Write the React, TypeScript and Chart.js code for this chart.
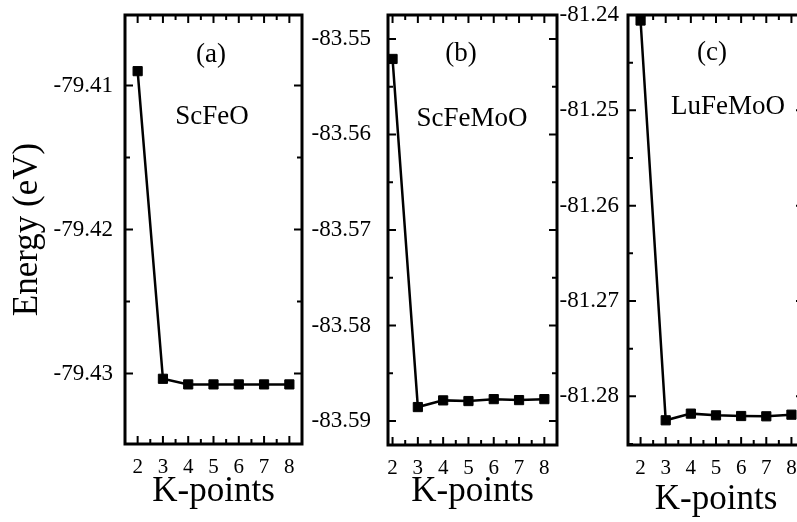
import React, { useEffect, useRef } from "react";
import { Chart, registerables } from "chart.js";

Chart.register(...registerables);

// ---- data ----
const kPoints = [2, 3, 4, 5, 6, 7, 8];
const energyScFeO = [-79.4090, -79.43037, -79.43076, -79.43076, -79.43076, -79.43076, -79.43076];
const energyScFeMoO = [-83.5521, -83.58853, -83.58783, -83.5879, -83.5877, -83.5878, -83.5877];
const energyLuFeMoO = [-81.24058, -81.28251, -81.28181, -81.28199, -81.28206, -81.28209, -81.28192];

const xTickValues = [2, 3, 4, 5, 6, 7, 8];
const yTicksScFeO = [-79.41, -79.42, -79.43];
const yTicksScFeMoO = [-83.55, -83.56, -83.57, -83.58, -83.59];
const yTicksLuFeMoO = [-81.24, -81.25, -81.26, -81.27, -81.28];

const panelTags = ["(a)", "(b)", "(c)"];
const compoundNames = ["ScFeO", "ScFeMoO", "LuFeMoO"];
const xAxisTitle = "K-points";
const yAxisTitle = "Energy (eV)";

const FONT = '"Liberation Serif", "Times New Roman", serif';

type Panel = {
  values: number[];
  yTicks: number[];
  xMin: number;
  xMax: number;
  yMin: number;
  yMax: number;
  left: number;
  right: number;
  top: number;
  bottom: number;
  canvasW: number;
  yLabelPad: number;
  xTitlePadBottom: number;
  showYTitle: boolean;
  tag: string;
  name: string;
  tagPos: [number, number];
  namePos: [number, number];
};

const panels: Panel[] = [
  {
    values: energyScFeO, yTicks: yTicksScFeO,
    xMin: 1.5, xMax: 8.5, yMin: -79.4349, yMax: -79.4051,
    left: 125, right: 302, top: 15, bottom: 444, canvasW: 797,
    yLabelPad: 12, xTitlePadBottom: 9, showYTitle: true,
    tag: panelTags[0], name: compoundNames[0], tagPos: [211, 55], namePos: [212, 117],
  },
  {
    values: energyScFeMoO, yTicks: yTicksScFeMoO,
    xMin: 1.82, xMax: 8.5, yMin: -83.5925, yMax: -83.5475,
    left: 388, right: 557, top: 15, bottom: 445, canvasW: 797,
    yLabelPad: 17, xTitlePadBottom: 9, showYTitle: false,
    tag: panelTags[1], name: compoundNames[1], tagPos: [461, 54], namePos: [472, 119],
  },
  {
    values: energyLuFeMoO, yTicks: yTicksLuFeMoO,
    xMin: 1.5, xMax: 8.5, yMin: -81.2851, yMax: -81.24,
    left: 628, right: 804, top: 15, bottom: 445, canvasW: 830,
    yLabelPad: 9, xTitlePadBottom: 1, showYTitle: false,
    tag: panelTags[2], name: compoundNames[2], tagPos: [712, 53], namePos: [728, 107],
  },
];

const H = 522;

function makeFramePlugin(p: Panel) {
  return {
    id: "frameTicks",
    afterDatasetsDraw(chart: any) {
      const { ctx, chartArea, scales } = chart;
      const { left, right, top, bottom } = chartArea;
      const xs = scales.x;
      const ys = scales.y;
      ctx.save();
      ctx.strokeStyle = "#000";
      ctx.lineWidth = 2;
      const majLen = 8;
      const minLen = 5;
      const xMinor: number[] = [];
      xTickValues.forEach((v) => {
        [v - 0.5, v + 0.5].forEach((m) => {
          if (m > p.xMin && m < p.xMax && !xMinor.includes(m)) xMinor.push(m);
        });
      });
      const yStep = Math.abs(p.yTicks[0] - p.yTicks[1]);
      const yMinor: number[] = [];
      p.yTicks.forEach((v) => {
        [v - yStep / 2, v + yStep / 2].forEach((m) => {
          if (m > p.yMin && m < p.yMax && !yMinor.some((q) => Math.abs(q - m) < 1e-9)) yMinor.push(m);
        });
      });
      ctx.beginPath();
      xTickValues.forEach((v) => {
        const px = xs.getPixelForValue(v);
        ctx.moveTo(px, bottom);
        ctx.lineTo(px, bottom - majLen);
        ctx.moveTo(px, top);
        ctx.lineTo(px, top + majLen);
      });
      xMinor.forEach((v) => {
        const px = xs.getPixelForValue(v);
        ctx.moveTo(px, bottom);
        ctx.lineTo(px, bottom - minLen);
        ctx.moveTo(px, top);
        ctx.lineTo(px, top + minLen);
      });
      p.yTicks.forEach((v) => {
        const py = ys.getPixelForValue(v);
        ctx.moveTo(left, py);
        ctx.lineTo(left + majLen, py);
        ctx.moveTo(right, py);
        ctx.lineTo(right - majLen, py);
      });
      yMinor.forEach((v) => {
        const py = ys.getPixelForValue(v);
        ctx.moveTo(left, py);
        ctx.lineTo(left + minLen, py);
        ctx.moveTo(right, py);
        ctx.lineTo(right - minLen, py);
      });
      ctx.stroke();
      ctx.lineWidth = 3;
      ctx.strokeRect(left, top, right - left, bottom - top);

      ctx.fillStyle = "#000";
      ctx.font = `27px ${FONT}`;
      ctx.textAlign = "center";
      ctx.textBaseline = "middle";
      ctx.fillText(p.tag, p.tagPos[0], p.tagPos[1]);
      ctx.fillText(p.name, p.namePos[0], p.namePos[1]);
      ctx.restore();
    },
  };
}

function PanelChart({ p }: { p: Panel }) {
  const ref = useRef<HTMLCanvasElement | null>(null);
  useEffect(() => {
    if (!ref.current) return;
    const chart = new Chart(ref.current, {
      type: "line",
      data: {
        datasets: [
          {
            data: kPoints.map((k, i) => ({ x: k, y: p.values[i] })),
            borderColor: "#000",
            borderWidth: 2.5,
            pointStyle: "rect",
            pointRadius: 6.5,
            pointBackgroundColor: "#000",
            pointBorderColor: "#000",
            pointBorderWidth: 1,
            tension: 0,
            clip: false as any,
          },
        ],
      },
      options: {
        responsive: false,
        animation: false,
        events: [],
        layout: {
          padding: { left: 0, right: p.canvasW - p.right, top: p.top, bottom: 0 },
        },
        plugins: { legend: { display: false }, tooltip: { enabled: false } },
        scales: {
          x: {
            type: "linear",
            min: p.xMin,
            max: p.xMax,
            grid: { display: false, drawTicks: false, tickLength: 0 },
            border: { display: false },
            afterBuildTicks: (s: any) => {
              s.ticks = xTickValues.map((v) => ({ value: v }));
            },
            afterFit: (s: any) => {
              s.height = H - p.bottom;
              s.paddingLeft = 0;
              s.paddingRight = 0;
            },
            ticks: {
              color: "#000",
              font: { family: FONT, size: 21 },
              padding: 11,
              maxRotation: 0,
              autoSkip: false,
              callback: (v: any) => String(v),
            },
            title: {
              display: true,
              text: xAxisTitle,
              color: "#000",
              font: { family: FONT, size: 35 },
              padding: { top: 0, bottom: p.xTitlePadBottom },
            },
          },
          y: {
            type: "linear",
            min: p.yMin,
            max: p.yMax,
            grid: { display: false, drawTicks: false, tickLength: 0 },
            border: { display: false },
            afterBuildTicks: (s: any) => {
              s.ticks = p.yTicks.map((v) => ({ value: v }));
            },
            afterFit: (s: any) => {
              s.width = p.left;
              s.paddingTop = 0;
              s.paddingBottom = 0;
            },
            ticks: {
              color: "#000",
              font: { family: FONT, size: 23 },
              padding: p.yLabelPad,
              autoSkip: false,
              callback: (v: any) => Number(v).toFixed(2),
            },
            title: {
              display: p.showYTitle,
              text: yAxisTitle,
              color: "#000",
              font: { family: FONT, size: 35 },
              padding: { top: 7, bottom: 0 },
            },
          },
        },
      } as any,
      plugins: [makeFramePlugin(p) as any],
    });
    return () => chart.destroy();
  }, [p]);
  return (
    <canvas
      ref={ref}
      width={p.canvasW}
      height={H}
      style={{ position: "absolute", left: 0, top: 0, width: p.canvasW, height: H }}
    />
  );
}

export default function App() {
  return (
    <div
      style={{
        position: "absolute",
        left: 0,
        top: 0,
        width: 797,
        height: 522,
        overflow: "hidden",
        background: "#fff",
      }}
    >
      {panels.map((p, i) => (
        <PanelChart key={i} p={p} />
      ))}
    </div>
  );
}
